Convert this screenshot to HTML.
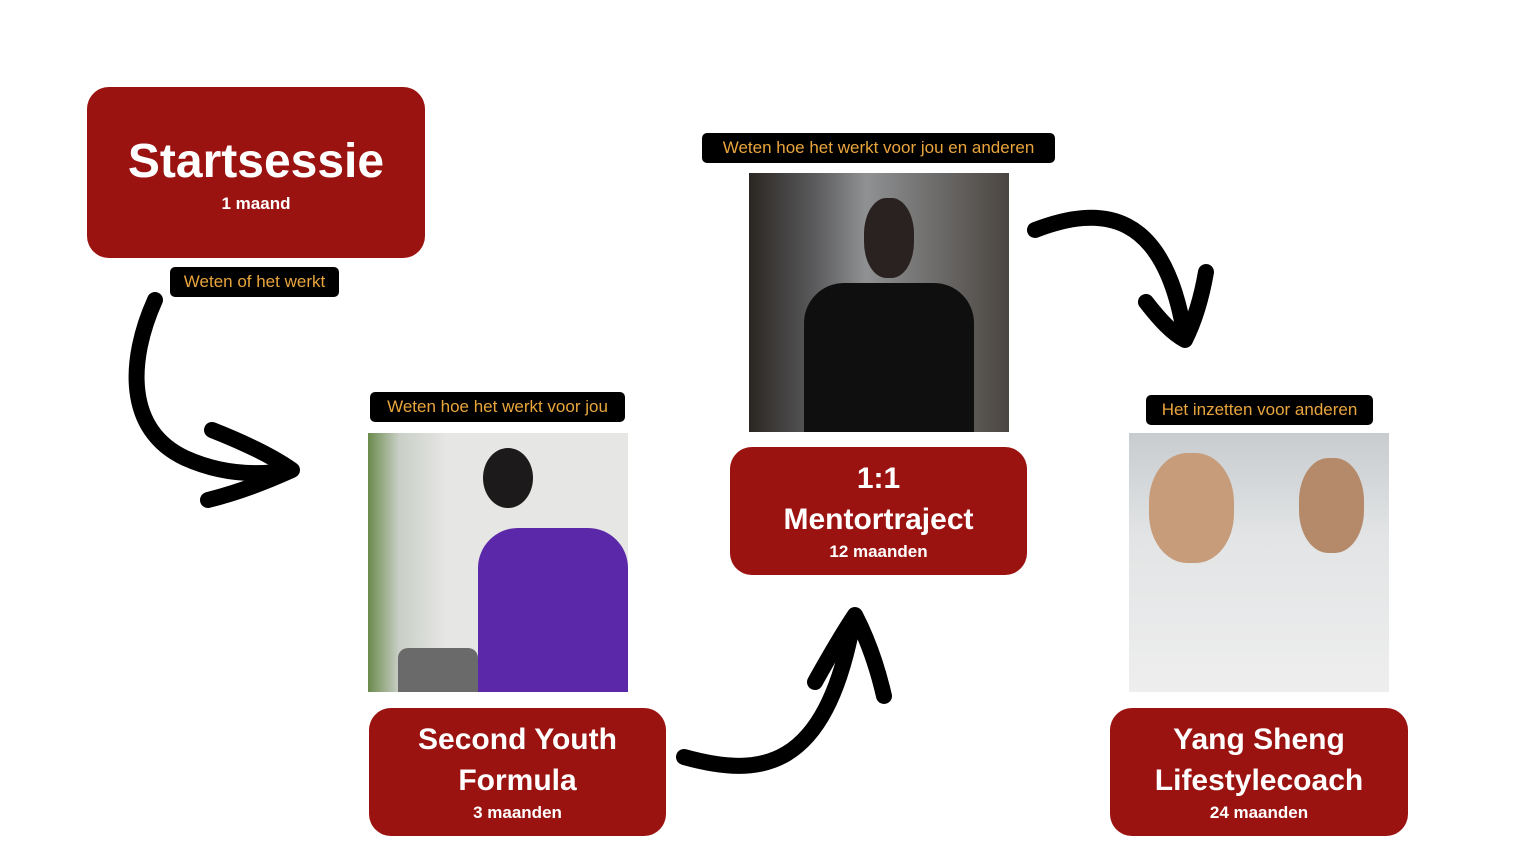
<!DOCTYPE html>
<html><head><meta charset="utf-8"><style>
body{margin:0;width:1536px;height:865px;background:#fff;position:relative;overflow:hidden;font-family:"Liberation Sans",sans-serif}
.box{position:absolute;background:#9b1310;border-radius:22px;color:#fff;text-align:center;font-weight:bold}
.lbl{position:absolute;background:#000;color:#e9a53c;border-radius:5px;font-size:17px;line-height:30px;text-align:center;white-space:nowrap}
.ph{position:absolute}
.t{font-size:30px;line-height:41px}
.s{font-size:17px;line-height:22px}
</style></head><body>
<div class="box" style="left:87px;top:87px;width:338px;height:171px">
 <div style="font-size:48px;line-height:56px;margin-top:47px">Startsessie</div>
 <div class="s" style="margin-top:3px">1 maand</div>
</div>
<div class="lbl" style="left:170px;top:267px;width:169px">Weten of het werkt</div>

<div class="lbl" style="left:370px;top:392px;width:255px">Weten hoe het werkt voor jou</div>
<div class="ph" style="left:368px;top:433px;width:260px;height:259px;background:linear-gradient(90deg,#6b8b4c 0,#c9cfc7 12%,#e6e6e4 30%,#e6e6e4 100%)">
 <div style="position:absolute;left:115px;top:15px;width:50px;height:60px;border-radius:50%;background:#1c1a1a"></div>
 <div style="position:absolute;left:110px;top:95px;width:150px;height:164px;background:#5a28a8;border-radius:40px 40px 0 0"></div>
 <div style="position:absolute;left:30px;top:215px;width:80px;height:44px;background:#6a6a6a;border-radius:10px 10px 0 0"></div>
</div>
<div class="box" style="left:369px;top:708px;width:297px;height:128px">
 <div class="t" style="margin-top:11px">Second Youth<br>Formula</div>
 <div class="s" style="margin-top:1px">3 maanden</div>
</div>

<div class="lbl" style="left:702px;top:133px;width:353px">Weten hoe het werkt voor jou en anderen</div>
<div class="ph" style="left:749px;top:173px;width:260px;height:259px;background:linear-gradient(90deg,#2a2622 0,#5a5a5c 25%,#8f9193 45%,#4a4540 100%)">
 <div style="position:absolute;left:115px;top:25px;width:50px;height:80px;border-radius:45%;background:#2a2220"></div>
 <div style="position:absolute;left:55px;top:110px;width:170px;height:149px;background:#0f0f0f;border-radius:40px 40px 0 0"></div>
</div>
<div class="box" style="left:730px;top:447px;width:297px;height:128px">
 <div class="t" style="margin-top:11px">1:1<br>Mentortraject</div>
 <div class="s" style="margin-top:1px">12 maanden</div>
</div>

<div class="lbl" style="left:1146px;top:395px;width:227px">Het inzetten voor anderen</div>
<div class="ph" style="left:1129px;top:433px;width:260px;height:259px;background:linear-gradient(180deg,#c8cccf 0,#e2e4e5 40%,#eeeeee 100%)">
 <div style="position:absolute;left:20px;top:20px;width:85px;height:110px;border-radius:45%;background:#c79c7a"></div>
 <div style="position:absolute;left:170px;top:25px;width:65px;height:95px;border-radius:45%;background:#b58a6a"></div>
</div>
<div class="box" style="left:1110px;top:708px;width:298px;height:128px">
 <div class="t" style="margin-top:11px">Yang Sheng<br>Lifestylecoach</div>
 <div class="s" style="margin-top:1px">24 maanden</div>
</div>

<svg width="1536" height="865" style="position:absolute;left:0;top:0" fill="none" stroke="#000" stroke-linecap="round" stroke-linejoin="round">
 <path d="M155,300 C128,360 125,430 185,458 C225,476 262,475 290,470" stroke-width="16"/>
 <path d="M212,430 C250,445 275,458 292,470 C270,480 240,492 208,500" stroke-width="16"/>
 <path d="M684,757 C760,778 825,772 853,622" stroke-width="16"/>
 <path d="M815,682 C830,655 845,630 855,615 C868,640 878,670 884,696" stroke-width="16"/>
 <path d="M1035,230 C1100,205 1165,208 1185,338" stroke-width="16"/>
 <path d="M1146,302 C1160,320 1172,333 1185,340 C1195,320 1202,295 1206,272" stroke-width="16"/>
</svg>
</body></html>
